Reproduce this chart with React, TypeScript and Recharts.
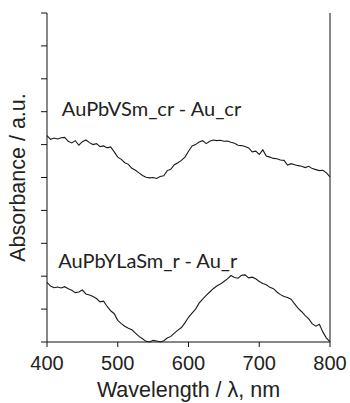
import { LineChart, Line, XAxis, YAxis, ReferenceLine, ReferenceDot, Label } from "recharts";

const WAVELENGTHS = [
  400, 405, 410, 415, 420, 425, 430, 435, 440, 445, 450, 455, 460, 465, 470, 475, 480, 485, 490, 495,
  500, 505, 510, 515, 520, 525, 530, 535, 540, 545, 550, 555, 560, 565, 570, 575, 580, 585, 590, 595,
  600, 605, 610, 615, 620, 625, 630, 635, 640, 645, 650, 655, 660, 665, 670, 675, 680, 685, 690, 695,
  700, 705, 710, 715, 720, 725, 730, 735, 740, 745, 750, 755, 760, 765, 770, 775, 780, 785, 790, 795,
  800,
];

// AuPbVSm_cr - Au_cr (upper trace, offset)
const CR_VALUES = [
  6.27, 6.16, 6.2, 6.17, 6.21, 6.22, 6.1, 6.05, 6.12, 5.98, 6.09, 6.14, 6.06, 6.0, 6.03, 5.94, 5.96, 5.9, 5.93, 5.78,
  5.62, 5.55, 5.45, 5.4, 5.28, 5.22, 5.14, 5.06, 5.01, 4.99, 5.0, 4.97, 5.03, 5.05, 5.21, 5.25, 5.39, 5.45, 5.52, 5.62,
  5.8, 5.96, 6.0, 6.08, 6.12, 6.03, 6.1, 6.14, 6.12, 6.13, 6.1, 6.11, 6.07, 6.04, 5.98, 5.97, 5.94, 5.9, 5.78, 5.8,
  5.7, 5.84, 5.65, 5.62, 5.58, 5.57, 5.53, 5.52, 5.38, 5.42, 5.39, 5.36, 5.34, 5.3, 5.34, 5.27, 5.24, 5.21, 5.22, 5.14,
  5.02,
];

// AuPbYLaSm_r - Au_r (lower trace)
const R_VALUES = [
  1.81, 1.7, 1.65, 1.67, 1.64, 1.68, 1.62, 1.57, 1.5, 1.52, 1.58, 1.46, 1.43, 1.38, 1.32, 1.22, 1.24, 1.08, 0.95, 0.86,
  0.66, 0.56, 0.48, 0.42, 0.37, 0.27, 0.17, 0.1, 0.02, 0.0, 0.05, 0.03, 0.0, 0.04, 0.12, 0.17, 0.27, 0.36, 0.44, 0.58,
  0.75, 0.88, 1.0, 1.18, 1.3, 1.42, 1.52, 1.62, 1.7, 1.76, 1.84, 1.92, 2.02, 1.96, 1.94, 2.03, 2.04, 1.95, 1.97, 1.92,
  1.84, 1.78, 1.74, 1.66, 1.62, 1.52, 1.44, 1.38, 1.35, 1.3, 1.16, 1.02, 0.92, 0.8, 0.7, 0.55, 0.48, 0.54, 0.3, 0.12,
  0.01,
];

const X_TICKS = [400, 500, 600, 700, 800];
const Y_TICKS = [0, 1, 2, 3, 4, 5, 6, 7, 8, 9, 10];

const LABEL_CR = "AuPbVSm_cr - Au_cr";
const LABEL_R = "AuPbYLaSm_r - Au_r";

const data = WAVELENGTHS.map((wl, i) => ({ wl, cr: CR_VALUES[i], r: R_VALUES[i] }));

const AXIS_FONT = "'Liberation Sans', Arial, sans-serif";
const NOTE_FONT = "Lato, 'Open Sans', sans-serif";

export default function App() {
  return (
    <div style={{ position: "absolute", left: 0, top: 0, background: "#fff" }}>
      <LineChart
        width={350}
        height={403}
        data={data}
        margin={{ top: 13, right: 20, bottom: 0, left: 0 }}
      >
        <XAxis
          dataKey="wl"
          type="number"
          domain={[400, 800]}
          ticks={X_TICKS}
          height={61}
          tickSize={5}
          tickMargin={9}
          stroke="#111"
          tick={{ fill: "#222", fontSize: 20, fontFamily: AXIS_FONT }}
        >
          <Label
            value="Wavelength / λ, nm"
            position="insideBottom"
            offset={6}
            style={{ fill: "#222", fontSize: 21.5, fontFamily: AXIS_FONT }}
          />
        </XAxis>
        <YAxis
          type="number"
          domain={[0, 10]}
          ticks={Y_TICKS}
          width={47}
          tickSize={6}
          tickFormatter={() => ""}
          tick={{ fontSize: 1 }}
          stroke="#111"
        >
          <Label
            value="Absorbance / a.u."
            angle={-90}
            position="insideLeft"
            offset={17}
            style={{ textAnchor: "middle", fill: "#222", fontSize: 21.5, fontFamily: AXIS_FONT }}
          />
        </YAxis>
        <ReferenceLine x={800} stroke="#111" />
        <ReferenceDot x={421} y={7.1} r={0} stroke="none" fill="none">
          <Label
            value={LABEL_CR}
            position="right"
            offset={0}
            style={{ fill: "#222", fontSize: 20, fontFamily: NOTE_FONT }}
          />
        </ReferenceDot>
        <ReferenceDot x={416} y={2.45} r={0} stroke="none" fill="none">
          <Label
            value={LABEL_R}
            position="right"
            offset={0}
            style={{ fill: "#222", fontSize: 20, fontFamily: NOTE_FONT }}
          />
        </ReferenceDot>
        <Line
          dataKey="cr"
          type="linear"
          stroke="#1a1a1a"
          strokeWidth={1.1}
          dot={false}
          isAnimationActive={false}
        />
        <Line
          dataKey="r"
          type="linear"
          stroke="#1a1a1a"
          strokeWidth={1.1}
          dot={false}
          isAnimationActive={false}
        />
      </LineChart>
    </div>
  );
}
